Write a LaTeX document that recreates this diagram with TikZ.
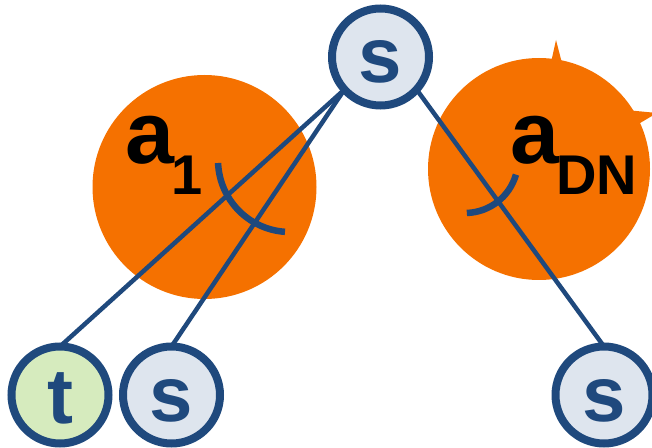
\documentclass[tikz,border=0pt]{standalone}
\usepackage{fontspec}
\setmainfont{Liberation Sans}
\definecolor{ringblue}{RGB}{31,73,125}
\definecolor{sfill}{RGB}{222,229,238}
\definecolor{tfill}{RGB}{214,235,190}
\definecolor{blob}{RGB}{245,113,0}
\begin{document}
\begin{tikzpicture}[x=1pt,y=1pt,
  state/.style={circle, draw=ringblue, line width=8pt, minimum size=97pt,
    inner sep=0pt, outer sep=0pt, text=ringblue,
    font=\fontsize{78}{78}\selectfont\bfseries, text height=52pt, text depth=0pt},
  sstate/.style={state, fill=sfill},
  tstate/.style={state, fill=tfill, text height=57pt},
  action/.style={circle, fill=blob, inner sep=0pt, outer sep=0pt},
  edge/.style={draw=ringblue, line width=4.5pt},
  anglemark/.style={draw=ringblue, line width=6.5pt},
  lbl/.style={anchor=base west, inner sep=0pt, text=black,
    font=\fontsize{88}{88}\selectfont\bfseries}
]
\useasboundingbox (0,0) rectangle (652,447);

% action circles with the two small spikes on the right one
\node[action, minimum size=224pt] (act1) at (204.5,260) {};
\node[action, minimum size=222pt] (act2) at (539,278) {};
\fill[blob] (550,380) -- (556,407) -- (563,380) -- cycle;
\fill[blob] (626,337) -- (657,334) -- (630,318) -- cycle;

% state nodes
\node[sstate] (root) at (380.5,390) {s};
\node[tstate] (t) at (60,52) {t};
\node[sstate] (s1) at (171.5,52) {s};
\node[sstate] (s2) at (604,52) {s};

% connectors
\draw[edge] (root) -- (t.north);
\draw[edge] (root.222.9) -- (s1.north);
\draw[edge] (root.-42.7) -- (s2.north);

% angle marks
\draw[anglemark] (290,287) ++(182.4:72pt) arc[start angle=182.4, end angle=266, radius=72pt];
\draw[anglemark] (465,287) ++(-16:53pt) arc[start angle=-16, end angle=-88, radius=53pt];

% action labels
\node[lbl] (l1) at (125,283) {a\kern-2.5pt\raisebox{-31pt}{\fontsize{56}{56}\selectfont 1}};
\node[lbl] (l2) at (510,283) {a\kern-3pt\raisebox{-31pt}{\fontsize{56}{56}\selectfont DN}};
\end{tikzpicture}
\end{document}
